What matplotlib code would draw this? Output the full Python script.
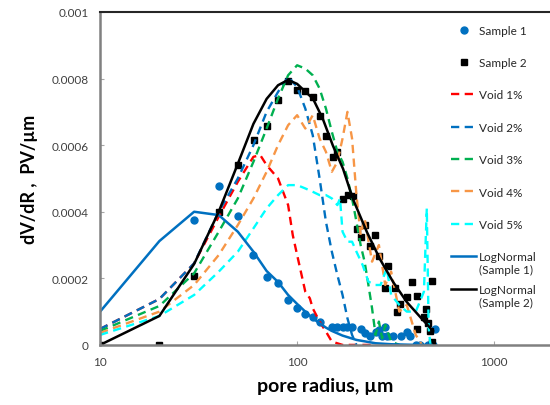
import matplotlib.pyplot as plt
from matplotlib.transforms import IdentityTransform

plt.rcParams['font.family'] = ['Lato', 'DejaVu Sans']

# Sample 1 (measured)
x_s1 = [30, 40, 50, 60, 70, 80, 90, 100, 110, 120, 130, 150, 160, 170, 180, 190,
        210, 220, 235, 250, 260, 270, 280, 285, 305, 335, 360, 375, 400, 420, 460, 490, 500]
y_s1 = [0.000376, 0.000478, 0.000387, 0.00027, 0.000204, 0.000186, 0.000135, 0.000111,
        0.000092, 0.000084, 0.000069, 0.000054, 0.000054, 0.000054, 0.000054, 0.000054,
        0.000048, 0.000036, 0.000027, 0.000039, 0.000045, 0.000027, 0.000054, 0.000027,
        0.000027, 0.000027, 0.000039, 0.000027, 0, 0, 0, 0, 0.000048]

# Sample 2 (measured)
x_s2 = [10, 20, 30, 40, 50, 60.6, 70, 80, 90, 100, 110, 120, 130, 140, 152, 160, 171, 181,
        192, 201, 212, 220, 234, 248, 260, 279, 289, 315, 322, 333, 362, 384, 406, 406,
        438, 450, 461, 470, 483, 483]
y_s2 = [0, 0, 0.000207, 0.0004, 0.00054, 0.000616, 0.000658, 0.000736, 0.000793, 0.000766,
        0.000763, 0.000745, 0.000688, 0.000628, 0.000565, 0.00058, 0.000438, 0.00045,
        0.000447, 0.000348, 0.000324, 0.00036, 0.000297, 0.00033, 0.000267, 0.000171,
        0.000237, 0.000171, 0.0001, 0.000123, 0.000144, 0.000189, 0.000147, 0.000048,
        0.000084, 0.000108, 0.000066, 0.000042, 0.000192, 0.00001]

# simulated void cases
x_v1 = [10, 20, 30, 40, 50, 60, 65, 70, 80, 90, 95, 100, 110, 116, 120, 130, 140, 150, 170, 200, 250]
y_v1 = [0.000048, 0.000138, 0.000245, 0.000385, 0.00049, 0.000565, 0.00057, 0.00054, 0.0005,
        0.00042, 0.00033, 0.00027, 0.00016, 0.00014, 0.00011, 0.00007, 0.00004, 0.00001, 0, 0, 0]

x_v2 = [10, 20, 30, 40, 50, 60, 70, 80, 90, 100, 110, 120, 130, 140, 150, 160, 170, 180, 190, 200]
y_v2 = [0.000048, 0.000138, 0.000245, 0.0004, 0.0005, 0.0006, 0.0007, 0.00076, 0.000805,
        0.000775, 0.00071, 0.00063, 0.0005, 0.00037, 0.00028, 0.00021, 0.00015, 0.00008,
        0.00003, 0]

x_v3 = [10, 20, 30, 40, 50, 60, 70, 80, 90, 100, 110, 120, 130, 140, 150, 160, 170, 180, 190,
        200, 210, 220, 230, 240, 250, 260, 270, 280, 300, 330]
y_v3 = [0.000042, 0.000117, 0.000215, 0.00034, 0.00044, 0.00055, 0.00065, 0.00074, 0.00081,
        0.00084, 0.00083, 0.00081, 0.00077, 0.00071, 0.00064, 0.00058, 0.00055, 0.0005,
        0.00044, 0.00037, 0.0003, 0.00025, 0.00018, 0.00011, 0.00003, 0.00007, 0.00002,
        0.00006, 0.00001, 0]

x_v4 = [10, 20, 30, 40, 50, 60, 70, 80, 90, 100, 110, 120, 130, 140, 150, 160, 170, 180, 190,
        200, 210, 220, 240, 260, 280, 300, 330, 360, 400, 430]
y_v4 = [0.000036, 0.0001, 0.00018, 0.00027, 0.00036, 0.00044, 0.00052, 0.0006, 0.00066,
        0.00069, 0.00065, 0.00069, 0.00062, 0.00058, 0.00052, 0.00055, 0.00062, 0.0007,
        0.00062, 0.00045, 0.00033, 0.00038, 0.00025, 0.0003, 0.00018, 0.00022, 0.0001,
        0.00012, 0.00003, 0]

x_v5 = [10, 20, 30, 40, 50, 60, 70, 80, 90, 100, 110, 120, 130, 140, 150, 160, 165, 170, 180,
        190, 200, 215, 230, 250, 265, 285, 300, 330, 360, 400, 440, 455, 465, 475]
y_v5 = [0.00003, 0.000087, 0.00015, 0.00022, 0.00028, 0.00035, 0.00041, 0.00045, 0.00048,
        0.00048, 0.00047, 0.00046, 0.00045, 0.00045, 0.00044, 0.00042, 0.00044, 0.00034,
        0.00031, 0.00031, 0.00028, 0.00024, 0.00019, 0.00018, 0.00018, 0.00023, 0.00015,
        0.00012, 0.0001, 0.0001, 0.00016, 0.00041, 0.00005, 0]

# log-normal fits
x_ln1 = [10, 20, 30, 40, 50, 60, 70, 80, 90, 100, 110, 120, 130, 140, 150, 170, 200, 250, 300, 400, 480]
y_ln1 = [0.0001, 0.000312, 0.0004, 0.00039, 0.00034, 0.00028, 0.000222, 0.000189, 0.00015,
         0.000123, 0.0001, 0.00008, 0.000065, 0.000052, 0.000042, 0.000028, 0.000015,
         0.000005, 0.000002, 0, 0]

x_ln2 = [10, 20, 30, 40, 50, 60, 70, 80, 90, 100, 120.5, 135, 152, 171, 192, 226, 263, 307,
         360, 421, 489]
y_ln2 = [0, 0.000087, 0.000243, 0.0004, 0.000544, 0.000664, 0.000739, 0.00078, 0.000796,
         0.000784, 0.000739, 0.000679, 0.000598, 0.000529, 0.000438, 0.000339, 0.000258,
         0.000189, 0.000129, 0.000084, 0.000042]

fig = plt.figure(figsize=(5.5, 4.06), dpi=100)
ax = fig.add_axes([0.182, 0.148, 0.818, 0.820])

dash = (3.5, 2.3)
ax.plot(x_s1, y_s1, 'o', color='#0070C0', markersize=5, label='Sample 1')
ax.plot(x_s2, y_s2, 's', color='black', markersize=5, label='Sample 2')
ax.plot(x_v1, y_v1, color='#FF0000', lw=1.7, dashes=dash, label='Void 1%')
ax.plot(x_v2, y_v2, color='#0070C0', lw=1.7, dashes=dash, label='Void 2%')
ax.plot(x_v3, y_v3, color='#00B050', lw=1.7, dashes=dash, label='Void 3%')
ax.plot(x_v4, y_v4, color='#F79646', lw=1.7, dashes=dash, label='Void 4%')
ax.plot(x_v5, y_v5, color='#00FFFF', lw=1.7, dashes=dash, label='Void 5%')
ax.plot(x_ln1, y_ln1, color='#0070C0', lw=1.8, label='LogNormal')
ax.plot(x_ln2, y_ln2, color='black', lw=1.8, label='LogNormal')

ax.set_xscale('log')
ax.set_xlim(10, 1920)
ax.set_ylim(0, 0.001)
ax.set_xticks([10, 100, 1000])
ax.set_xticklabels(['10', '100', '1000'])
ax.minorticks_off()
ax.set_yticks([0, 0.0002, 0.0004, 0.0006, 0.0008, 0.001])
ax.set_yticklabels(['0', '0.0002', '0.0004', '0.0006', '0.0008', '0.001'])
ax.tick_params(direction='in', length=3, color='#A6A6A6', labelsize=8.5,
               labelcolor='#404040', pad=8)

ax.spines['right'].set_visible(False)
ax.spines['top'].set_color('#262626')
ax.spines['top'].set_linewidth(1.5)
for s in ['left', 'bottom']:
    ax.spines[s].set_color('#808080')
    ax.spines[s].set_linewidth(1.8)

ax.set_xlabel('pore radius, µm', fontsize=14, fontweight='bold', labelpad=7)
ax.set_ylabel('dV/dR ,  PV/µm', fontsize=13, fontweight='bold', labelpad=10)

leg = ax.legend(loc='upper left', bbox_to_anchor=(0.77, 0.976), borderaxespad=0,
                frameon=False, fontsize=8.5, labelspacing=1.81, handlelength=2.1,
                handletextpad=0.25, borderpad=0.4)
texts = leg.get_texts()
for t in texts:
    t.set_color('#262626')

# second line of the two LogNormal entries, placed under the legend text
fig.canvas.draw()
for t, s in [(texts[7], '(Sample 1)'), (texts[8], '(Sample 2)')]:
    bb = t.get_window_extent()
    fig.text(bb.x0, bb.y0 - 2, s, transform=IdentityTransform(),
             ha='left', va='top', fontsize=8.5, color='#262626')

fig.savefig('out.png', dpi=100)
